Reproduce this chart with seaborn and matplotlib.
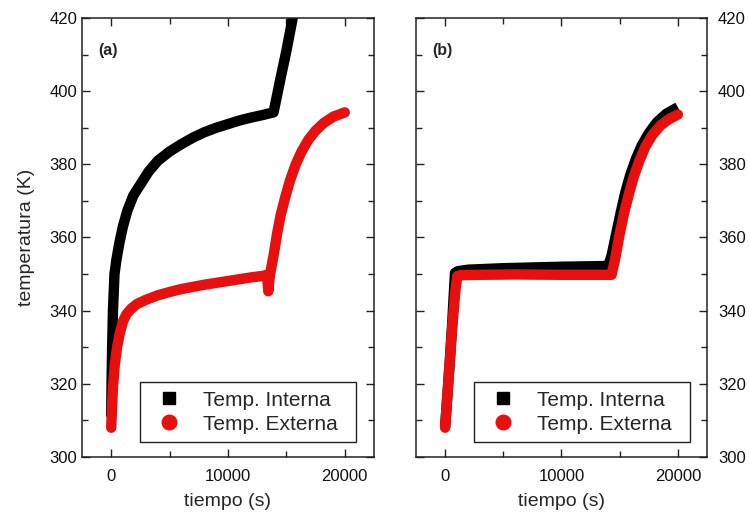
import numpy as np
import pandas as pd
import seaborn as sns
import matplotlib
matplotlib.use("Agg")
import matplotlib.pyplot as plt
from matplotlib.lines import Line2D
from matplotlib.ticker import MultipleLocator

# ---- data ----
a_int_t = [0, 30, 80, 150, 280, 450, 700, 1000, 1400, 1900, 2500, 3200, 4000, 5000, 6000, 7000,
           8000, 9000, 10000, 11000, 12000, 13000, 13900, 14500, 15000, 15600]
a_int_T = [311, 320, 330, 340, 350, 354, 358.5, 363, 367.5, 371.5, 374.5, 378, 381, 383.5, 385.5, 387.3,
           388.8, 390, 391, 392, 392.8, 393.5, 394.2, 403.5, 411, 421]

a_ext_t = [0, 60, 150, 300, 500, 750, 1000, 1300, 1700, 2200, 3000, 4000, 5000, 6000, 7000, 8000,
           9000, 10000, 11000, 12000, 13000, 13350, 13450, 13600, 13900, 14200, 14500, 14900, 15300,
           15800, 16300, 16900, 17500, 18200, 19000, 20000]
a_ext_T = [308, 313, 319, 325, 330, 334, 337, 339, 340.5, 341.8, 343, 344.2, 345.1, 345.9, 346.5, 347.1,
           347.6, 348.1, 348.6, 349.1, 349.5, 349.8, 345.3, 350, 355, 361, 366, 371, 375.5,
           380, 383.5, 386.8, 389.2, 391.3, 393, 394.2]

b_int_t = [0, 200, 400, 600, 850, 1100, 2000, 5000, 10000, 14000, 14300, 14700, 15100, 15500, 15900,
           16400, 16900, 17500, 18200, 19000, 20000]
b_int_T = [308, 317, 326, 336, 350.3, 350.8, 351.2, 351.6, 352, 352.2, 355, 361, 367, 372.5, 377,
           381.5, 385.2, 388.5, 391.5, 393.8, 395.6]

b_ext_t = [0, 200, 400, 600, 900, 1050, 1300, 3000, 6000, 10000, 14300, 14600, 15000, 15400, 15800,
           16200, 16700, 17200, 17800, 18500, 19200, 20000]
b_ext_T = [308, 317, 326, 335, 346, 349.4, 349.7, 349.8, 349.9, 349.8, 349.8, 354, 361, 367, 372,
           376.5, 381, 384.8, 388, 390.6, 392.3, 393.6]

series_labels = ["Temp. Interna", "Temp. Externa"]
panel_labels = ["(a)", "(b)"]
x_ticks = [0, 10000, 20000]
y_ticks = [300, 320, 340, 360, 380, 400, 420]

sns.set_style("ticks")
plt.rcParams['font.family'] = ['Liberation Sans', 'DejaVu Sans']

fig = plt.figure(figsize=(7.49, 5.2), dpi=100)
axA = fig.add_axes([0.1095, 0.1212, 0.3898, 0.8442])
axB = fig.add_axes([0.5554, 0.1212, 0.3885, 0.8442])

BLACK = "#000000"
RED = "#e8100f"
LW = 7.5

panels = [
    (axA, a_int_t, a_int_T, a_ext_t, a_ext_T, panel_labels[0]),
    (axB, b_int_t, b_int_T, b_ext_t, b_ext_T, panel_labels[1]),
]

for ax, ti, Ti, te, Te, lab in panels:
    sns.lineplot(x=ti, y=Ti, ax=ax, color=BLACK, linewidth=LW, sort=False,
                 estimator=None, legend=False, solid_capstyle='butt',
                 solid_joinstyle='round')
    sns.lineplot(x=te, y=Te, ax=ax, color=RED, linewidth=LW, sort=False,
                 estimator=None, legend=False, solid_capstyle='round',
                 solid_joinstyle='round')
    ax.set_xlim(-2500, 22500)
    ax.set_ylim(300, 420)
    ax.set_xticks(x_ticks)
    ax.set_yticks(y_ticks)
    ax.xaxis.set_minor_locator(MultipleLocator(5000))
    ax.yaxis.set_minor_locator(MultipleLocator(10))
    ax.tick_params(which='both', direction='in', top=True, right=True,
                   left=True, bottom=True, width=1.0, colors='#222222',
                   labelcolor='#111111', labelsize=12)
    ax.tick_params(which='major', length=6)
    ax.tick_params(which='minor', length=4)
    ax.tick_params(axis='x', which='major', pad=9)
    for s in ax.spines.values():
        s.set_linewidth(1.1)
        s.set_color('#222222')
    ax.text(0.089, 0.927, lab, transform=ax.transAxes, fontsize=11.5,
            fontweight='bold', ha='center', va='center')
    ax.set_xlabel("tiempo (s)", fontsize=14, labelpad=6)
    handles = [
        Line2D([], [], linestyle='none', marker='s', color=BLACK, markersize=9),
        Line2D([], [], linestyle='none', marker='o', color=RED, markersize=10.5),
    ]
    leg = ax.legend(handles, series_labels, loc='lower left',
                    bbox_to_anchor=(0.20, 0.034, 0.74, 0.14), mode='expand',
                    fontsize=15, frameon=True,
                    fancybox=False, framealpha=1, edgecolor='#222222',
                    borderpad=0.4, labelspacing=0.25, handletextpad=0.66,
                    handlelength=1.95, borderaxespad=0)
    leg.get_frame().set_linewidth(1.0)

axA.set_ylabel("temperatura (K)", fontsize=14, labelpad=10)
axA.tick_params(axis='y', labelleft=True, labelright=False)
axB.set_ylabel("")
axB.tick_params(axis='y', which='both', labelleft=False, labelright=True, pad=8)

fig.savefig("out.png", dpi=100)
